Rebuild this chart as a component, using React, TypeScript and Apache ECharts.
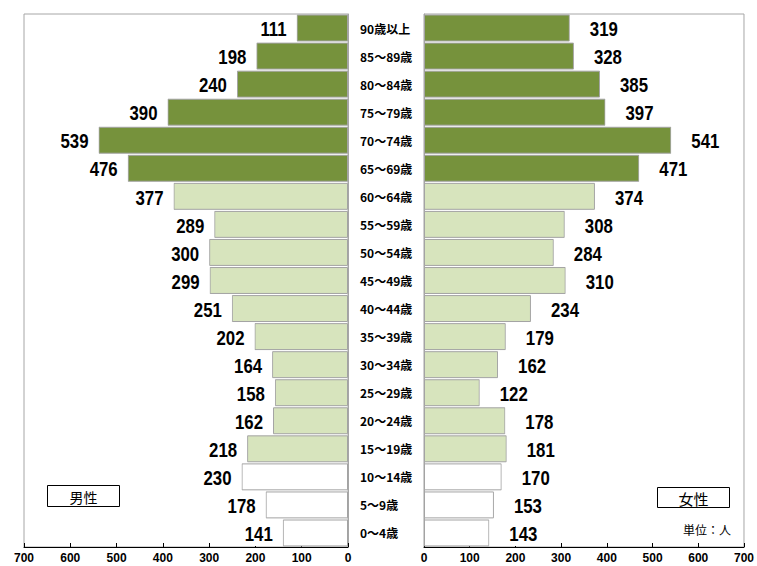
import React, { useEffect, useRef } from "react";
import * as echarts from "echarts";

// Age groups from youngest (bottom row) to oldest (top row)
const ageGroups = [
  "0～4歳", "5～9歳", "10～14歳", "15～19歳", "20～24歳", "25～29歳",
  "30～34歳", "35～39歳", "40～44歳", "45～49歳", "50～54歳", "55～59歳",
  "60～64歳", "65～69歳", "70～74歳", "75～79歳", "80～84歳", "85～89歳", "90歳以上",
];
const male = [141, 178, 230, 218, 162, 158, 164, 202, 251, 299, 300, 289, 377, 476, 539, 390, 240, 198, 111];
const female = [143, 153, 170, 181, 178, 122, 162, 179, 234, 310, 284, 308, 374, 471, 541, 397, 385, 328, 319];

const maleLabel = "男性";
const femaleLabel = "女性";
const unitLabel = "単位：人";

// colour per age band: under 15, 15–64, 65 and over
const YOUTH = "#ffffff";
const WORKING = "#d7e4bd";
const ELDERLY = "#76923c";
const bandColor = (i: number) => (i < 3 ? YOUTH : i < 13 ? WORKING : ELDERLY);

const NUM_FONT = '"Liberation Sans", Arial, sans-serif';
const JP_FONT = '"Noto Sans CJK JP", sans-serif';

// Value label drawn beside a bar end: white box plus horizontally condensed digits.
const makeLabelRenderer = (side: "left" | "right") => (_params: any, api: any) => {
  const v = api.value(0);
  const idx = api.value(1);
  const [x, y] = api.coord([v, idx]);
  const isLeft = side === "left";
  return {
    type: "group",
    x,
    y,
    children: [
      {
        type: "rect",
        shape: isLeft
          ? { x: -52, y: -13, width: 52, height: 26 }
          : { x: 0, y: -13, width: 54, height: 26 },
        style: { fill: "#fff" },
      },
      {
        type: "text",
        x: isLeft ? -10 : 20,
        y: 1,
        scaleX: 0.8,
        style: {
          text: String(v),
          fontFamily: NUM_FONT,
          fontWeight: "bold",
          fontSize: 21,
          fill: "#000",
          align: isLeft ? "right" : "left",
          verticalAlign: "middle",
        },
      },
    ],
  };
};

export default function App() {
  const ref = useRef<HTMLDivElement>(null);

  useEffect(() => {
    if (!ref.current) return;
    const chart = echarts.init(ref.current, undefined, { renderer: "svg" });

    const valueAxis = (gridIndex: number, inverse: boolean) => ({
      type: "value",
      gridIndex,
      inverse,
      min: 0,
      max: 700,
      interval: 100,
      axisLine: { show: true, lineStyle: { color: "#000", width: 1 } },
      axisTick: { show: true, inside: true, length: 4, lineStyle: { color: "#000" } },
      axisLabel: {
        margin: 5,
        color: "#000",
        fontFamily: NUM_FONT,
        fontWeight: "bold",
        fontSize: 12,
      },
      splitLine: { show: false },
    });

    const barItem = {
      color: (p: any) => bandColor(p.dataIndex),
      borderColor: "#a3a3a3",
      borderWidth: 1,
    };

    chart.setOption({
      animation: false,
      backgroundColor: "#fff",
      grid: [
        { left: 24, width: 324, top: 14, height: 533, show: true, borderColor: "#a6a6a6", borderWidth: 1, backgroundColor: "transparent" },
        { left: 424, width: 325, top: 14, height: 533, show: true, borderColor: "#a6a6a6", borderWidth: 1, backgroundColor: "transparent" },
      ],
      xAxis: [valueAxis(0, true), valueAxis(1, false)],
      yAxis: [
        {
          type: "category",
          gridIndex: 0,
          data: ageGroups,
          position: "right",
          axisLine: { show: true, lineStyle: { color: "#a6a6a6" } },
          axisTick: { show: false },
          axisLabel: {
            margin: 12,
            color: "#000",
            fontFamily: JP_FONT,
            fontWeight: "bold",
            fontSize: 12,
          },
        },
        {
          type: "category",
          gridIndex: 1,
          data: ageGroups,
          position: "left",
          axisLine: { show: true, lineStyle: { color: "#a6a6a6" } },
          axisTick: { show: false },
          axisLabel: { show: false },
        },
      ],
      series: [
        {
          name: maleLabel,
          type: "bar",
          xAxisIndex: 0,
          yAxisIndex: 0,
          data: male,
          barCategoryGap: "4%",
          itemStyle: barItem,
        },
        {
          name: femaleLabel,
          type: "bar",
          xAxisIndex: 1,
          yAxisIndex: 1,
          data: female,
          barCategoryGap: "4%",
          itemStyle: barItem,
        },
        {
          type: "custom",
          xAxisIndex: 0,
          yAxisIndex: 0,
          z: 5,
          data: male.map((v, i) => [v, i]),
          encode: { x: 0, y: 1 },
          renderItem: makeLabelRenderer("left"),
        },
        {
          type: "custom",
          xAxisIndex: 1,
          yAxisIndex: 1,
          z: 5,
          data: female.map((v, i) => [v, i]),
          encode: { x: 0, y: 1 },
          renderItem: makeLabelRenderer("right"),
        },
      ],
      graphic: [
        {
          type: "group",
          left: 47,
          top: 485,
          children: [
            { type: "rect", shape: { x: 0, y: 0, width: 72, height: 21 }, style: { fill: "#fff", stroke: "#000", lineWidth: 1 } },
            {
              type: "text",
              x: 36,
              y: 11,
              style: { text: maleLabel, fontFamily: JP_FONT, fontSize: 14, fill: "#000", align: "center", verticalAlign: "middle" },
            },
          ],
        },
        {
          type: "group",
          left: 657,
          top: 487,
          children: [
            { type: "rect", shape: { x: 0, y: 0, width: 72, height: 20 }, style: { fill: "#fff", stroke: "#000", lineWidth: 1 } },
            {
              type: "text",
              x: 36,
              y: 11,
              style: { text: femaleLabel, fontFamily: JP_FONT, fontSize: 15, fill: "#000", align: "center", verticalAlign: "middle" },
            },
          ],
        },
        {
          type: "text",
          left: 683,
          top: 523,
          style: { text: unitLabel, fontFamily: JP_FONT, fontSize: 12, fill: "#000" },
        },
      ],
    });

    return () => chart.dispose();
  }, []);

  return <div ref={ref} style={{ position: "fixed", left: 0, top: 0, width: 757, height: 566 }} />;
}
